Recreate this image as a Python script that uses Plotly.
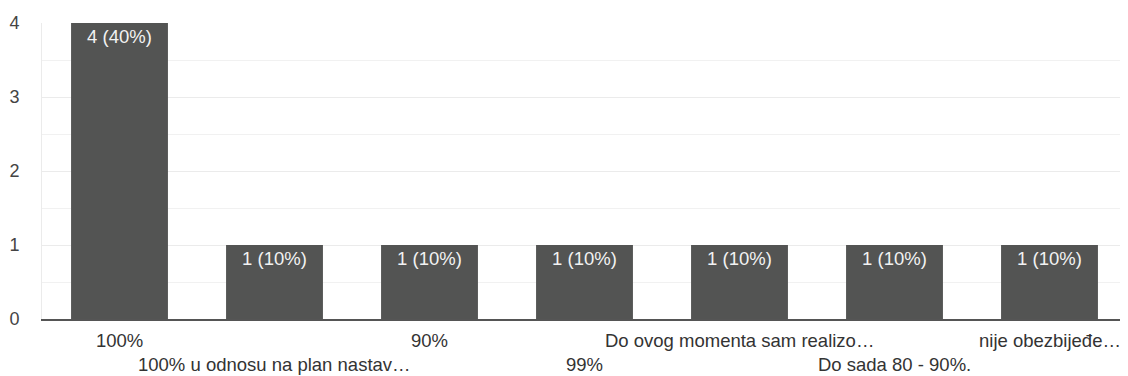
import plotly.graph_objects as go

# answers and how many picked each
categories = [
    "100%",
    "100% u odnosu na plan nastav…",
    "90%",
    "99%",
    "Do ovog momenta sam realizo…",
    "Do sada 80 - 90%.",
    "nije obezbijeđe…",
]
counts = [4, 1, 1, 1, 1, 1, 1]
percents = [40, 10, 10, 10, 10, 10, 10]

bar_text = [f"{c} ({p}%)" for c, p in zip(counts, percents)]
FONT = "Liberation Sans, Arial"

fig = go.Figure()
fig.add_trace(go.Bar(
    x=categories,
    y=counts,
    text=bar_text,
    textposition="inside",
    insidetextanchor="end",
    textangle=0,
    textfont=dict(family=FONT, size=18.5, color="#f2f2f2"),
    marker=dict(color="#535453", line=dict(width=0)),
    hoverinfo="skip",
))

# category labels, staggered on two rows like the original
for i, cat in enumerate(categories):
    fig.add_annotation(
        x=cat, xref="x", y=0, yref="paper",
        yshift=-21 if i % 2 == 0 else -45,
        text=cat, showarrow=False,
        xanchor="center", yanchor="middle",
        font=dict(family=FONT, size=18.5, color="#333333"),
    )

# the page body has an 8px margin, so the figure is a bit smaller than the window
fig.update_layout(
    width=1120, height=368,
    margin=dict(l=34, r=1, t=15, b=57),
    plot_bgcolor="white",
    paper_bgcolor="white",
    bargap=0.375,
    showlegend=False,
    font=dict(family=FONT, size=18, color="#444444"),
    xaxis=dict(
        showticklabels=False,
        showgrid=False,
        showline=True,
        linecolor="#555555",
        linewidth=2,
        zeroline=False,
    ),
    yaxis=dict(
        range=[0, 4],
        tickvals=[0, 1, 2, 3, 4],
        gridcolor="#ebebeb",
        gridwidth=1,
        minor=dict(dtick=0.5, showgrid=True, gridcolor="#f1f1f1", gridwidth=1),
        showline=True,
        mirror=True,
        linecolor="#ebebeb",
        linewidth=1,
        zeroline=False,
        ticklabelstandoff=18,
        tickfont=dict(size=18, color="#444444"),
    ),
)

fig.write_html("out.html")
